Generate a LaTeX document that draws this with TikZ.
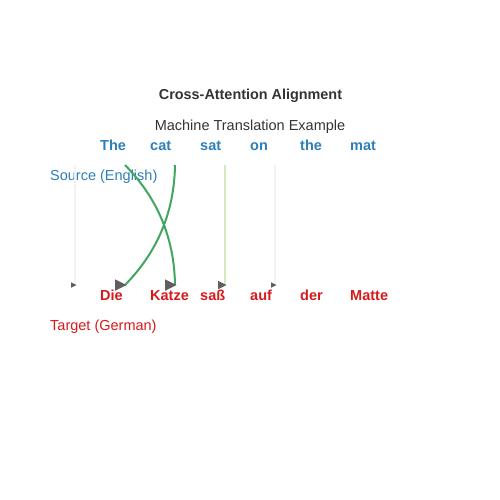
\documentclass[tikz,border=0pt]{standalone}
\usepackage{fontspec}
\setmainfont{Liberation Sans}
\usetikzlibrary{calc}

\definecolor{srcblue}{HTML}{2C7FB8}
\definecolor{tgtred}{HTML}{D7191C}
\definecolor{titlegray}{HTML}{333333}
\definecolor{strongline}{HTML}{41A65F}
\definecolor{midline}{HTML}{D3EABF}
\definecolor{weakline}{HTML}{F2F2F2}
\definecolor{headgray}{HTML}{5F5F5F}

\tikzset{
  txt/.style={inner sep=0pt,font=\fontsize{14.5}{16}\selectfont},
  srcword/.style={txt,anchor=base west,text=srcblue,font=\fontsize{14.5}{16}\selectfont\bfseries},
  tgtword/.style={txt,anchor=base west,text=tgtred,font=\fontsize{14.5}{16}\selectfont\bfseries},
  strong/.style={draw=strongline,line width=2pt},
  medium/.style={draw=midline,line width=2pt},
  weak/.style={draw=weakline,line width=1.2pt}
}
\newcommand{\headat}[2]{\fill[headgray] ($(#1)+(1.5,0)$) -- ++(-#2,-#2/2) -- ++(0,#2) -- cycle;}

\begin{document}
\begin{tikzpicture}[x=1pt,y=-1pt]
      \useasboundingbox (0,0) rectangle (500,500);
      \node[txt,anchor=base,text=titlegray,font=\fontsize{14.4}{16}\selectfont\bfseries] (title) at (250.5,100) {Cross-Attention Alignment};
      \node[txt,anchor=base,text=titlegray] (sub) at (250,130) {Machine Translation Example};
      % source sentence
      \node[srcword] (s1) at (100,150) {The};
      \node[srcword] (s2) at (150,150) {cat};
      \node[srcword] (s3) at (200,150) {sat};
      \node[srcword] (s4) at (250,150) {on};
      \node[srcword] (s5) at (300,150) {the};
      \node[srcword] (s6) at (350,150) {mat};
      \node[txt,anchor=base west,text=srcblue] (srclabel) at (50,180) {Source (English)};
      % target sentence
      \node[tgtword] (t1) at (100,300) {Die};
      \node[tgtword] (t2) at (150,300) {Katze};
      \node[tgtword] (t3) at (200,300) {saß};
      \node[tgtword] (t4) at (250,300) {auf};
      \node[tgtword] (t5) at (300,300) {der};
      \node[tgtword] (t6) at (350,300) {Matte};
      \node[txt,anchor=base west,text=tgtred] (tgtlabel) at (50,330) {Target (German)};
      % attention ends
      \foreach \i/\x in {1/75,2/125,3/175,4/225,5/275} {
        \coordinate (a\i) at (\x,165);
        \coordinate (b\i) at (\x,285);
      }
      \path
        (a1) edge[weak] (b1)
        (a4) edge[medium] (b4)
        (a5) edge[weak] (b5);
      \draw[strong] (a2) .. controls (157.7,198.3) and (174.3,238.3) .. (b3);
      \draw[strong] (a3) .. controls (174.3,211.7) and (157.7,251.7) .. (b2);
      \headat{b1}{5.5}
      \headat{b2}{11.5}
      \headat{b3}{11.5}
      \headat{b4}{8.5}
      \headat{b5}{5.5}
\end{tikzpicture}
\end{document}
